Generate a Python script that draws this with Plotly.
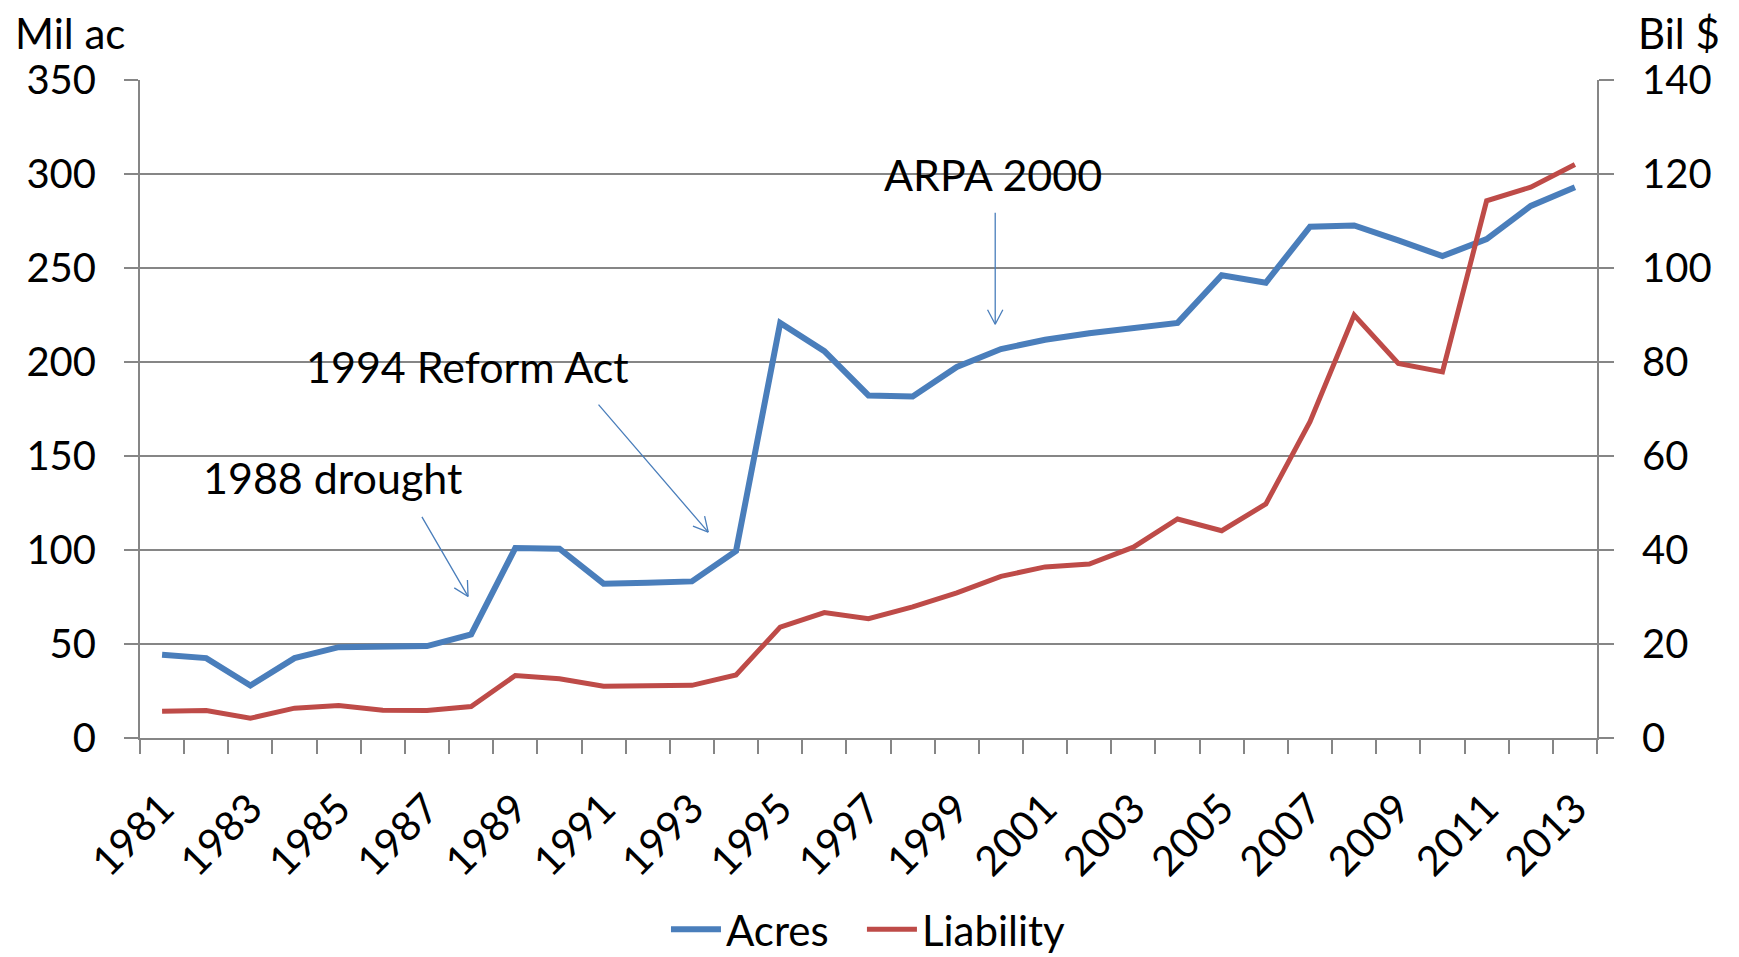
import math
import plotly.graph_objects as go

years = list(range(1981, 2014))
acres = [44.3, 42.5, 27.9, 42.5, 48.3, 48.3, 48.9, 55.1, 101.0, 100.7, 82.1, 82.6, 83.3,
         99.5, 220.8, 205.8, 182.2, 181.7, 197.4, 206.9, 211.8, 215.3, 217.9, 220.8,
         246.1, 242.2, 272.0, 272.6, 264.7, 256.3, 265.4, 283.0, 292.9]
liability = [5.7, 5.85, 4.2, 6.35, 6.9, 5.9, 5.85, 6.7, 13.3, 12.6, 11.0, 11.2, 11.2,
             13.4, 23.6, 26.7, 25.4, 27.9, 30.9, 34.4, 36.4, 37.0, 40.6, 46.6,
             44.1, 49.8, 67.3, 90.0, 79.7, 77.9, 114.3, 117.2, 122.0]
tick_years = list(range(1981, 2014, 2))
left_ticks = list(range(0, 351, 50))
right_ticks = list(range(0, 141, 20))

FONT = "Lato"
GRID = "#868686"
BLUE = "#4A7EBB"
RED = "#BE4B48"

fig = go.Figure()
fig.add_trace(go.Scatter(x=years, y=acres, name="Acres", mode="lines",
                         line=dict(color=BLUE, width=6), legend="legend"))
fig.add_trace(go.Scatter(x=years, y=liability, name="Liability", mode="lines",
                         line=dict(color=RED, width=5), yaxis="y2", legend="legend2"))

leg_common = dict(orientation="h", xanchor="left", yref="container", y=0.029,
                  yanchor="middle", font=dict(size=42), itemwidth=50,
                  bgcolor="rgba(0,0,0,0)")

fig.update_layout(
    width=1731, height=949,
    margin=dict(l=132, r=142, t=72, b=219),
    paper_bgcolor="white", plot_bgcolor="white",
    font=dict(family=FONT, size=40, color="black"),
    showlegend=True,
    legend=dict(x=0.361, **leg_common),
    legend2=dict(x=0.4955, **leg_common),
    xaxis=dict(range=[1980.5, 2013.5], tickvals=tick_years, ticktext=[str(y) for y in tick_years],
               tickangle=-45, ticks="outside", ticklen=14, tickcolor="rgba(0,0,0,0)",
               showline=True, linecolor=GRID, linewidth=2, showgrid=False, zeroline=False,
               minor=dict(ticks="outside", ticklen=14, tickwidth=1.5, tickcolor=GRID,
                          tick0=1980.5, dtick=1, showgrid=False),
               ticklabelstandoff=14, automargin=False, tickfont=dict(size=41)),
    yaxis=dict(range=[0, 350], tickvals=left_ticks, ticks="outside", ticklen=14,
               tickcolor=GRID, tickwidth=2, showline=True, linecolor=GRID, linewidth=2,
               showgrid=True, gridcolor=GRID, gridwidth=2, zeroline=False,
               ticklabelstandoff=20, automargin=False, tickfont=dict(size=40)),
    yaxis2=dict(range=[0, 140], tickvals=right_ticks, overlaying="y", side="right",
                ticks="outside", ticklen=15, tickcolor=GRID, tickwidth=2,
                showline=True, linecolor=GRID, linewidth=2, showgrid=False, zeroline=False,
                ticklabelstandoff=20, automargin=False, tickfont=dict(size=40)),
)

# axis unit labels
fig.add_annotation(text="Mil ac", xref="paper", yref="paper", x=-0.087, y=1.072,
                   xanchor="left", yanchor="middle", showarrow=False, height=40,
                   font=dict(size=42))
fig.add_annotation(text="Bil $", xref="paper", yref="paper", x=1.086, y=1.072,
                   xanchor="right", yanchor="middle", showarrow=False, height=40,
                   font=dict(size=42))

# event labels
labels = [("1988 drought", 1984.85, 138.6), ("1994 Reform Act", 1987.91, 197.7),
          ("ARPA 2000", 1999.82, 299.9)]
for t, x, y in labels:
    fig.add_annotation(text=t, x=x, y=y, xref="x", yref="y", showarrow=False,
                       font=dict(size=43), xanchor="center", yanchor="middle")

# arrows: head position in data coords, tail offset in px; open V heads
arrows = [(1987.93, 75.3, -47, -81), (1993.37, 109.5, -111, -129), (1999.87, 220.1, 0, -113)]
ARM = 18
for x, y, ax, ay in arrows:
    fig.add_annotation(text="", x=x, y=y, xref="x", yref="y", ax=ax, ay=ay,
                       showarrow=True, arrowhead=0, arrowwidth=1.3, arrowcolor=BLUE)
    L = math.hypot(ax, ay)
    ux, uy = ax / L, ay / L  # direction from head back to tail (screen px)
    for ang in (math.radians(28), -math.radians(28)):
        rx = ux * math.cos(ang) - uy * math.sin(ang)
        ry = ux * math.sin(ang) + uy * math.cos(ang)
        fig.add_annotation(text="", x=x, y=y, xref="x", yref="y", ax=rx * ARM, ay=ry * ARM,
                           showarrow=True, arrowhead=0, arrowwidth=1.3, arrowcolor=BLUE)

fig.write_html("out.html")
